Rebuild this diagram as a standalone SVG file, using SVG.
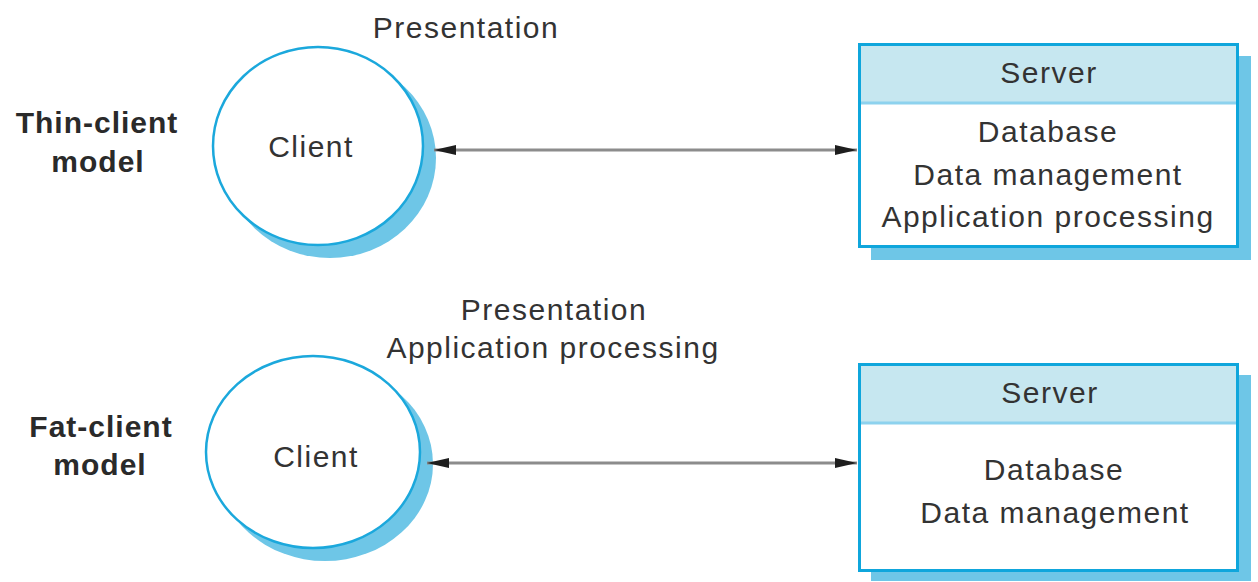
<svg xmlns="http://www.w3.org/2000/svg" width="1258" height="582" viewBox="0 0 1258 582">
  <style>
    .txt { font-family: "Liberation Sans", Arial, sans-serif; font-size: 30px; fill: #333; letter-spacing: 1.5px; text-anchor: middle; }
    .lbl { font-family: "Liberation Sans", Arial, sans-serif; font-size: 30px; font-weight: bold; fill: #2a2a2a; letter-spacing: 1px; text-anchor: middle; }
    .shadow { fill: #6ec6e7; }
    .client { fill: #fff; stroke: #1ba8dc; stroke-width: 2.5; }
    .box { fill: #fff; stroke: #0fa6dc; stroke-width: 3; }
    .head { fill: #c6e7f0; }
    .sep { stroke: #8dd2ee; stroke-width: 3; }
    .conn { stroke: #8c8c8c; stroke-width: 3; fill: none; marker-start: url(#tip); marker-end: url(#tip); }
  </style>
  <defs>
    <marker id="tip" markerUnits="userSpaceOnUse" markerWidth="22" markerHeight="10" refX="22" refY="5" orient="auto-start-reverse">
      <path d="M0,0 L22,5 L0,10 Z" fill="#1e1e1e"/>
    </marker>
  </defs>
  <rect width="1258" height="582" fill="#fff"/>

  <!-- side labels -->
  <g id="thin-label">
    <text class="lbl" x="97" y="133">Thin-client</text>
    <text class="lbl" x="98" y="172">model</text>
  </g>
  <g id="fat-label">
    <text class="lbl" x="101" y="437">Fat-client</text>
    <text class="lbl" x="100" y="475">model</text>
  </g>

  <!-- thin client -->
  <g id="thin-client">
    <ellipse class="shadow" cx="330" cy="158" rx="106" ry="100"/>
    <ellipse class="client" cx="318" cy="146" rx="105" ry="99"/>
    <text class="txt" x="311" y="157">Client</text>
    <text class="txt" x="466" y="38">Presentation</text>
  </g>

  <!-- thin-client server -->
  <g id="thin-server">
    <rect class="shadow" x="871" y="56" width="380" height="204"/>
    <rect class="box" x="859.5" y="44.5" width="378" height="202"/>
    <rect class="head" x="861" y="46" width="375" height="56"/>
    <line class="sep" x1="861" y1="103" x2="1236" y2="103"/>
    <text class="txt" x="1049" y="83">Server</text>
    <text class="txt" x="1048" y="142">Database</text>
    <text class="txt" x="1048" y="185">Data management</text>
    <text class="txt" x="1048" y="227">Application processing</text>
  </g>

  <!-- fat client -->
  <g id="fat-client">
    <ellipse class="shadow" cx="325" cy="464" rx="108" ry="97"/>
    <ellipse class="client" cx="313" cy="452" rx="107" ry="96"/>
    <text class="txt" x="316" y="467">Client</text>
    <text class="txt" x="554" y="320">Presentation</text>
    <text class="txt" x="553" y="358">Application processing</text>
  </g>

  <!-- fat-client server -->
  <g id="fat-server">
    <rect class="shadow" x="871" y="375" width="380" height="206"/>
    <rect class="box" x="859.5" y="364.5" width="378" height="206"/>
    <rect class="head" x="861" y="366" width="375" height="56"/>
    <line class="sep" x1="861" y1="423" x2="1236" y2="423"/>
    <text class="txt" x="1050" y="403">Server</text>
    <text class="txt" x="1054" y="480">Database</text>
    <text class="txt" x="1055" y="523">Data management</text>
  </g>

  <!-- connectors -->
  <g id="connectors">
    <line class="conn" x1="434" y1="150" x2="857" y2="150"/>
    <line class="conn" x1="427" y1="463" x2="857" y2="463"/>
  </g>
</svg>
